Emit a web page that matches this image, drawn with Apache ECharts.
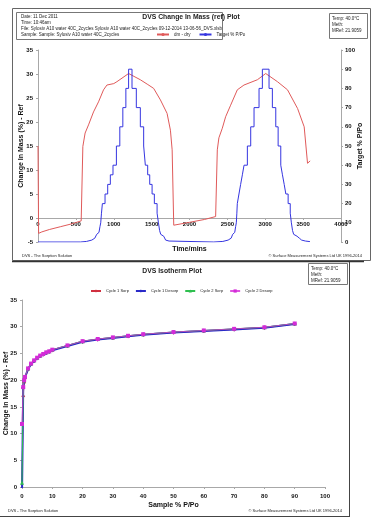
<!DOCTYPE html>
<html>
<head>
<meta charset="utf-8">
<script src="https://cdn.jsdelivr.net/npm/echarts@6.0.0/dist/echarts.min.js"></script>
<style>
html, body { margin: 0; padding: 0; background: #fff; }
#main { width: 387px; height: 521px; }
</style>
</head>
<body>
<div id="main"></div>
<script>
var FONT = '"Liberation Sans Narrow", "Liberation Sans", Arial, sans-serif';

// DVS change in mass plot: dm - dry (%) against time (mins)
var dryTime = [0, 8, 50, 150, 300, 450, 570, 592, 622, 667, 733, 799, 865, 910, 1000, 1042, 1196, 1219, 1351, 1450, 1527, 1616, 1704, 1748, 1771, 1792, 2000, 2200, 2345, 2367, 2388, 2433, 2477, 2543, 2631, 2719, 2896, 3006, 3161, 3294, 3427, 3514, 3536, 3558, 3593];
var dryMass = [15.0, -3.2, -2.9, -2.4, -1.8, -1.2, -0.6, 14.9, 17.7, 19.4, 22.1, 24.2, 26.7, 27.7, 28.0, 28.4, 30.1, 30.5, 28.8, 27.8, 27.0, 24.6, 21.8, 18.3, 14.2, -1.5, -0.9, -0.3, 0.3, 14.2, 16.7, 18.7, 21.1, 23.5, 26.7, 27.7, 28.8, 30.1, 28.4, 26.7, 22.8, 19.0, 18.7, 11.4, 11.9];

// target % P/Po, each value starts at its time (step)
var targetTime = [0, 560, 640, 710, 750, 775, 792, 805, 818, 828, 838, 850, 885, 920, 955, 990, 1035, 1080, 1120, 1160, 1196, 1241, 1298, 1351, 1395, 1417, 1448, 1475, 1506, 1536, 1572, 1590, 1605, 1620, 1640, 1660, 1685, 1705, 1730,
  2320, 2440, 2510, 2550, 2570, 2585, 2597, 2609, 2618, 2625, 2631, 2653, 2675, 2698, 2720, 2764, 2808, 2852, 2918, 2962, 3050, 3094, 3139, 3170, 3205, 3227, 3250, 3272, 3302, 3330, 3345, 3360, 3375, 3395, 3420, 3450, 3480, 3530, 3590];
var targetRH = [0, 0.3, 1, 2, 3, 4, 5, 6, 8, 10, 15, 20, 25, 30, 35, 40, 50, 60, 70, 80, 90, 80, 70, 60, 50, 40, 35, 30, 25, 20, 15, 10, 6, 4, 3, 2, 1, 0.5, 0,
  0.3, 1, 2, 3, 4, 5, 6, 8, 10, 15, 20, 25, 30, 35, 40, 50, 60, 70, 80, 90, 80, 70, 60, 50, 40, 35, 30, 25, 20, 15, 10, 6, 4, 3, 2, 1, 0.5, 0.2, 0];

// DVS isotherm plot
var isoPP = [0, 0.4, 0.7, 1, 2, 3, 4, 5, 6, 7, 8, 9, 10, 15, 20, 25, 30, 35, 40, 50, 60, 70, 80, 90];
var cycle1Sorp = [-0.6, 17.0, 19.5, 20.3, 22.0, 23.0, 23.6, 24.1, 24.5, 24.8, 25.1, 25.3, 25.6, 26.4, 27.2, 27.6, 27.9, 28.2, 28.5, 28.9, 29.2, 29.5, 29.8, 30.5];
var cycle1Desorp = [-1.5, 18.6, 19.9, 20.5, 22.1, 23.0, 23.6, 24.1, 24.5, 24.8, 25.1, 25.3, 25.6, 26.4, 27.2, 27.6, 27.9, 28.2, 28.5, 28.9, 29.2, 29.5, 29.8, 30.5];
var cycle2Sorp = [0.8, 18.7, 20.0, 20.6, 22.2, 23.1, 23.7, 24.2, 24.6, 24.9, 25.2, 25.4, 25.7, 26.5, 27.3, 27.7, 28.0, 28.3, 28.6, 29.0, 29.3, 29.6, 29.9, 30.6];
var cycle2Desorp = [11.8, 18.7, 20.0, 20.6, 22.2, 23.1, 23.7, 24.2, 24.6, 24.9, 25.2, 25.4, 25.7, 26.5, 27.3, 27.7, 28.0, 28.3, 28.6, 29.0, 29.3, 29.6, 29.9, 30.6];

function pairs(xs, ys) {
  return xs.map(function (x, i) { return [x, ys[i]]; });
}

var axisGray = '#a8a8a8';
var lblStyle = { fontSize: 6, fontWeight: 'bold', color: '#111', fontFamily: FONT, showMinLabel: true, showMaxLabel: true,
  formatter: function (v) { return String(v); } };
var nameStyle = { fontSize: 7, fontWeight: 'bold', color: '#111', fontFamily: FONT };

function txt(x, y, s, size, opts) {
  opts = opts || {};
  return {
    type: 'text', x: x, y: y, z: 10, scaleX: opts.sx || 1,
    style: {
      text: s, fill: opts.color || '#222',
      font: (opts.bold ? 'bold ' : '') + size + 'px ' + FONT,
      align: opts.align || 'left', verticalAlign: 'middle',
      textAlign: opts.align || 'left', textVerticalAlign: 'middle'
    }
  };
}
function box(x, y, w, h, stroke, lw) {
  return { type: 'rect', z: 9, shape: { x: x, y: y, width: w, height: h }, style: { fill: 'none', stroke: stroke || '#555', lineWidth: lw || 1 } };
}
function hline(x1, y1, x2, y2, stroke, lw) {
  return { type: 'line', z: 9, shape: { x1: x1, y1: y1, x2: x2, y2: y2 }, style: { stroke: stroke || '#555', lineWidth: lw || 1 } };
}

var option = {
  animation: false,
  backgroundColor: '#fff',
  textStyle: { fontFamily: FONT },
  legend: [
    {
      data: ['dm - dry', 'Target % P/Po'],
      left: 156, top: 32, itemWidth: 12, itemHeight: 4, itemGap: 8, padding: 0,
      textStyle: { fontSize: 4.5, color: '#222', fontFamily: FONT }
    },
    {
      data: ['Cycle 1 Sorp', 'Cycle 1 Desorp', 'Cycle 2 Sorp', 'Cycle 2 Desorp'],
      left: 90, top: 289, itemWidth: 10, itemHeight: 4, itemGap: 6, padding: 0,
      textStyle: { fontSize: 4, color: '#222', fontFamily: FONT }
    }
  ],
  grid: [
    { left: 38, top: 50, width: 303, height: 192, outerBoundsMode: 'none' },
    { left: 22, top: 300, width: 303, height: 187, outerBoundsMode: 'none' }
  ],
  xAxis: [
    {
      gridIndex: 0, type: 'value', min: 0, max: 4000, interval: 500, offset: -24,
      axisLine: { onZero: false, lineStyle: { color: axisGray } },
      axisTick: { show: true, length: 2, lineStyle: { color: axisGray } },
      splitLine: { show: false },
      axisLabel: Object.assign({ margin: 3 }, lblStyle),
      name: 'Time/mins', nameLocation: 'middle', nameGap: 28, nameMoveOverlap: false, nameTextStyle: nameStyle
    },
    {
      gridIndex: 1, type: 'value', min: 0, max: 100, interval: 10,
      axisLine: { onZero: false, lineStyle: { color: axisGray } },
      axisTick: { show: true, length: 2, lineStyle: { color: axisGray } },
      splitLine: { show: false },
      axisLabel: Object.assign({ margin: 6 }, lblStyle),
      name: 'Sample % P/Po', nameLocation: 'middle', nameGap: 15, nameMoveOverlap: false, nameTextStyle: nameStyle
    }
  ],
  yAxis: [
    {
      gridIndex: 0, type: 'value', min: -5, max: 35, interval: 5,
      axisLine: { show: true, onZero: false, lineStyle: { color: axisGray } },
      axisTick: { show: true, length: 2, lineStyle: { color: axisGray } },
      splitLine: { show: false },
      axisLabel: Object.assign({ margin: 5 }, lblStyle),
      name: 'Change In Mass (%) - Ref', nameLocation: 'middle', nameGap: 13, nameMoveOverlap: false, nameTextStyle: nameStyle
    },
    {
      gridIndex: 0, type: 'value', min: 0, max: 100, interval: 10, position: 'right',
      axisLine: { show: true, onZero: false, lineStyle: { color: axisGray } },
      axisTick: { show: true, length: 2, lineStyle: { color: axisGray } },
      splitLine: { show: false },
      axisLabel: Object.assign({ margin: 4 }, lblStyle),
      name: 'Target % P/Po', nameLocation: 'middle', nameGap: 16, nameRotate: 90, nameMoveOverlap: false, nameTextStyle: nameStyle
    },
    {
      gridIndex: 1, type: 'value', min: 0, max: 35, interval: 5,
      axisLine: { show: true, onZero: false, lineStyle: { color: axisGray } },
      axisTick: { show: true, length: 2, lineStyle: { color: axisGray } },
      splitLine: { show: false },
      axisLabel: Object.assign({ margin: 5 }, lblStyle),
      name: 'Change In Mass (%) - Ref', nameLocation: 'middle', nameGap: 12, nameMoveOverlap: false, nameTextStyle: nameStyle
    }
  ],
  series: [
    {
      name: 'dm - dry', type: 'line', xAxisIndex: 0, yAxisIndex: 0, symbol: 'none',
      data: pairs(dryTime, dryMass),
      lineStyle: { color: '#e05a5a', width: 1 }, itemStyle: { color: '#e05a5a' }
    },
    {
      name: 'Target % P/Po', type: 'line', xAxisIndex: 0, yAxisIndex: 1, symbol: 'none', step: 'end',
      data: pairs(targetTime, targetRH),
      lineStyle: { color: '#3535e0', width: 1 }, itemStyle: { color: '#3535e0' }
    },
    {
      name: 'Cycle 1 Sorp', type: 'line', xAxisIndex: 1, yAxisIndex: 2, z: 2,
      symbol: 'diamond', symbolSize: 4, data: pairs(isoPP, cycle1Sorp),
      lineStyle: { color: '#d03040', width: 1 }, itemStyle: { color: '#d03040' }
    },
    {
      name: 'Cycle 1 Desorp', type: 'line', xAxisIndex: 1, yAxisIndex: 2, z: 3,
      symbol: 'diamond', symbolSize: 4, data: pairs(isoPP, cycle1Desorp),
      lineStyle: { color: '#2a2ac8', width: 2 }, itemStyle: { color: '#2a2ac8' }
    },
    {
      name: 'Cycle 2 Sorp', type: 'line', xAxisIndex: 1, yAxisIndex: 2, z: 4,
      symbol: 'triangle', symbolSize: 4, data: pairs(isoPP, cycle2Sorp),
      lineStyle: { color: '#2fbf4f', width: 1 }, itemStyle: { color: '#2fbf4f' }
    },
    {
      name: 'Cycle 2 Desorp', type: 'line', xAxisIndex: 1, yAxisIndex: 2, z: 5,
      symbol: 'rect', symbolSize: 4, data: pairs(isoPP, cycle2Desorp),
      lineStyle: { color: '#d42ad8', width: 1, opacity: 0.8 }, itemStyle: { color: '#d42ad8' }
    }
  ],
  graphic: [
    // frames
    box(12.5, 8.5, 358, 252, '#666', 1),
    hline(12, 261.5, 364, 261.5, '#333', 1.5),
    hline(0, 516.5, 349, 516.5, '#444', 1),
    hline(349.5, 262, 349.5, 517, '#444', 1),
    // top info box
    box(16.5, 12.5, 206, 27, '#777', 1),
    txt(21, 17, 'Date: 11 Dec 2011', 4.5),
    txt(21, 23, 'Time: 10:46am', 4.5),
    txt(21, 29, 'File: Sylosiv A10 water 40C_2cycles Sylosiv A10 water 40C_2cycles 09-12-2014 13-06-56_DVS.xlsb', 4.5),
    txt(21, 35, 'Sample: Sample: Sylosiv A10 water 40C_2cycles', 4.5),
    txt(191, 17, 'DVS Change In Mass (ref) Plot', 8, { bold: true, align: 'center', color: '#222', sx: 0.85 }),
    box(329.5, 13.5, 38, 25, '#777', 1),
    txt(332, 19, 'Temp: 40.0\u00b0C', 4.5),
    txt(332, 25, 'Meth:', 4.5),
    txt(332, 31, 'MRef: 21.9059', 4.5),
    txt(22, 256, 'DVS - The Sorption Solution', 4),
    txt(362, 256, '\u00a9 Surface Measurement Systems Ltd UK 1996-2014', 4, { align: 'right' }),
    // isotherm
    txt(172, 271, 'DVS Isotherm Plot', 8, { bold: true, align: 'center', color: '#222', sx: 0.85 }),
    box(308.5, 263.5, 39, 21, '#777', 1),
    txt(311, 269, 'Temp: 40.0\u00b0C', 4.5),
    txt(311, 275, 'Meth:', 4.5),
    txt(311, 281, 'MRef: 21.9059', 4.5),
    txt(8, 511, 'DVS - The Sorption Solution', 4),
    txt(342, 511, '\u00a9 Surface Measurement Systems Ltd UK 1996-2014', 4, { align: 'right' })
  ]
};

var chart = echarts.init(document.getElementById('main'));
chart.setOption(option);
</script>
</body>
</html>
